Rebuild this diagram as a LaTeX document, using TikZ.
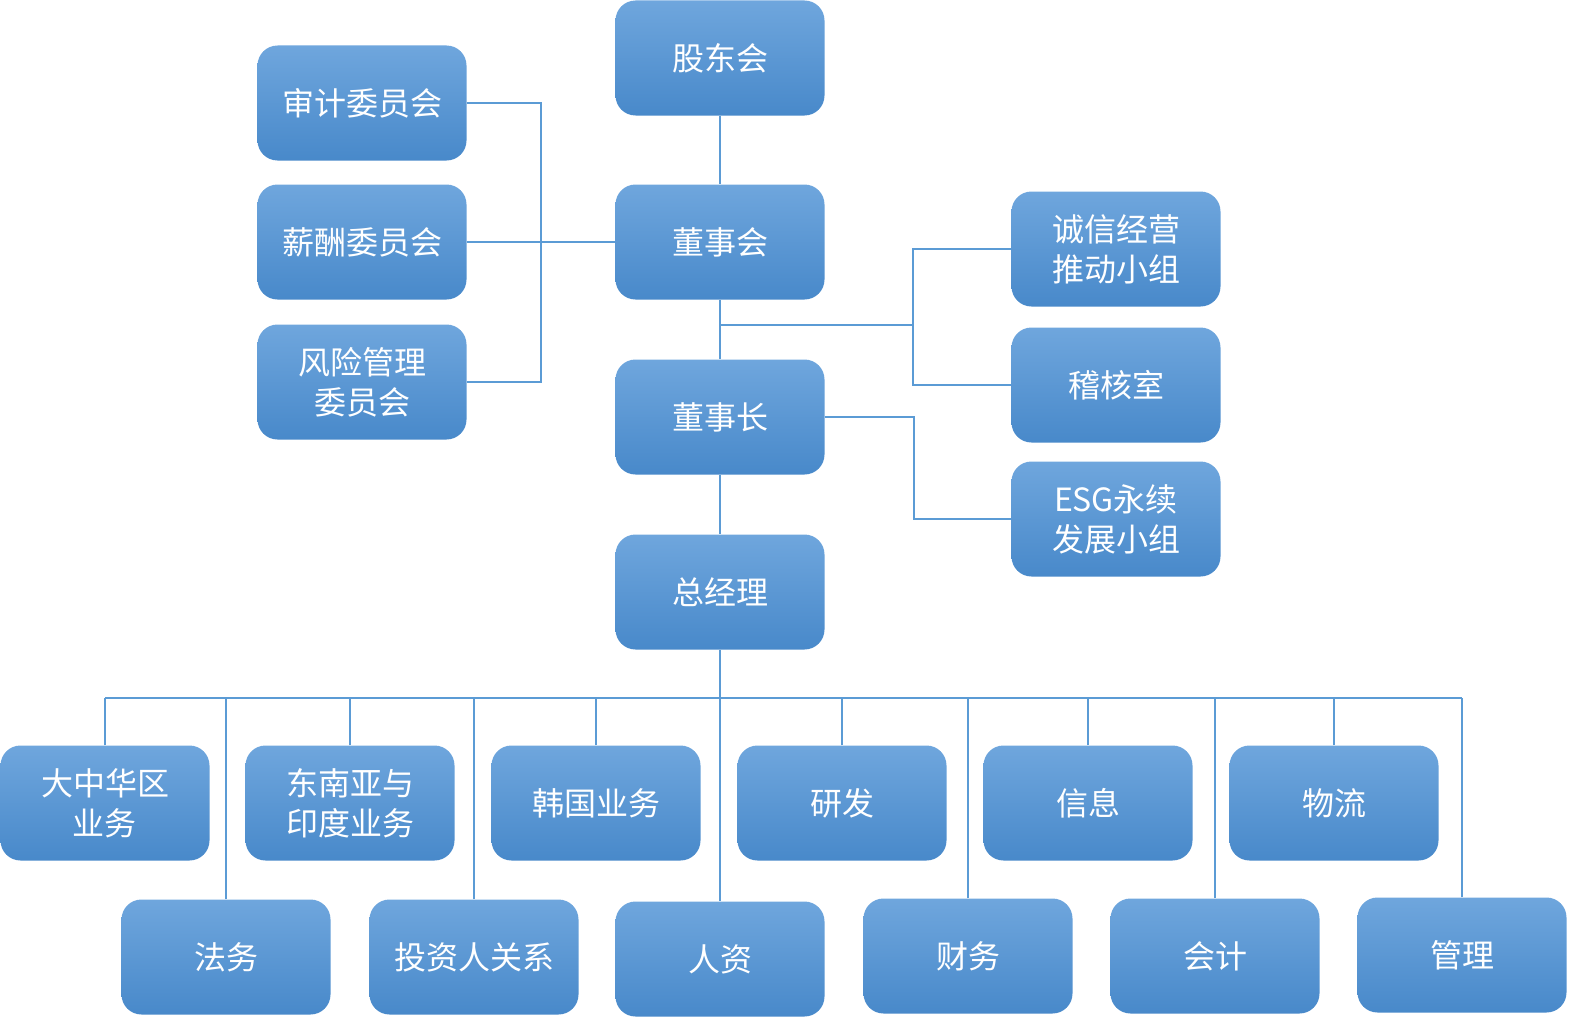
\documentclass[tikz,border=0pt]{standalone}
\usepackage{fontspec}
\newfontfamily\cjk{Noto Sans CJK SC}
\definecolor{boxtop}{HTML}{6FA6DD}
\definecolor{boxbot}{HTML}{4889CA}
\definecolor{linkc}{HTML}{5B9BD5}
\tikzset{
  box/.style={minimum width=209pt, minimum height=115pt, rounded corners=20pt,
    top color=boxtop, bottom color=boxbot, draw=none, text=white, align=center,
    inner sep=0pt, font=\cjk\fontsize{32}{40}\selectfont},
  link/.style={draw=linkc, line width=1.3pt}
}
\begin{document}
\begin{tikzpicture}[x=1pt,y=-1pt]
\useasboundingbox (0,0) rectangle (1589,1033);
% center column
\node[box] (gdh) at (720,58) {股东会};
\node[box] (dsh) at (720,242) {董事会};
\node[box] (dsz) at (720,417) {董事长};
\node[box] (zjl) at (720,592) {总经理};
% committees
\node[box] (sj) at (362,103) {审计委员会};
\node[box] (xc) at (362,242) {薪酬委员会};
\node[box] (fx) at (362,382) {风险管理\\委员会};
% right groups
\node[box] (cx) at (1116,249) {诚信经营\\推动小组};
\node[box] (jh) at (1116,385) {稽核室};
\node[box] (esg) at (1116,519) {ESG永续\\发展小组};
% row 1
\node[box] (dz) at (105,803) {大中华区\\业务};
\node[box] (dn) at (350,803) {东南亚与\\印度业务};
\node[box] (hg) at (596,803) {韩国业务};
\node[box] (yf) at (842,803) {研发};
\node[box] (xx) at (1088,803) {信息};
\node[box] (wl) at (1334,803) {物流};
% row 2
\node[box] (fw) at (226,957) {法务};
\node[box] (tz) at (474,957) {投资人关系};
\node[box] (rz) at (720,959) {人资};
\node[box] (cw) at (968,956) {财务};
\node[box] (kj) at (1215,956) {会计};
\node[box] (gl) at (1462,955) {管理};
% coordinates
\coordinate (cb) at (541,242);
\coordinate (rj) at (720,325);
\coordinate (rb) at (913,325);
\coordinate (eb) at (914,519);
\coordinate (bus) at (720,698);
% connectors
\draw[link] (gdh.south) -- (dsh.north);
\draw[link] (dsh.south) -- (dsz.north);
\draw[link] (dsz.south) -- (zjl.north);
\draw[link] (sj.east) -| (cb);
\draw[link] (fx.east) -| (cb);
\draw[link] (xc.east) -- (dsh.west);
\draw[link] (rj) -- (rb);
\draw[link] (cx.west) -| (rb);
\draw[link] (jh.west) -| (rb);
\draw[link] (dsz.east) -| (eb) -- (esg.west);
\draw[link] (zjl.south) -- (rz.north);
\draw[link] (dz.north |- bus) -- (gl.north |- bus);
\foreach \n in {dz,dn,hg,yf,xx,wl,fw,tz,cw,kj,gl}{
  \draw[link] (\n.north) -- (\n.north |- bus);
}
\end{tikzpicture}
\end{document}
